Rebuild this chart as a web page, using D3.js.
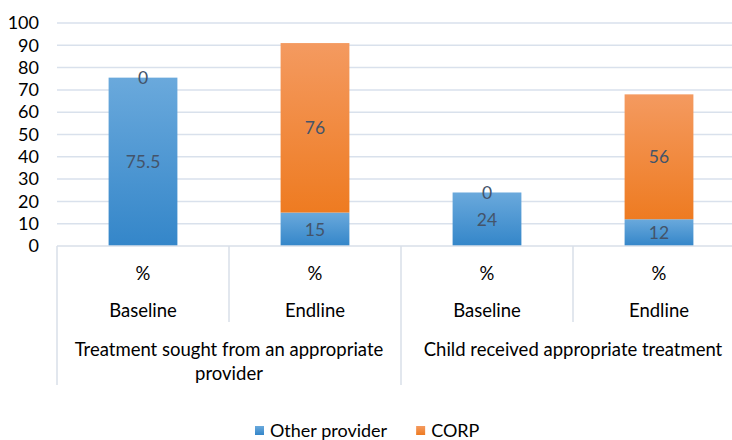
<!DOCTYPE html>
<html>
<head>
<meta charset="utf-8">
<script src="https://cdn.jsdelivr.net/npm/d3@7"></script>
<style>
  body { margin: 0; background: #fff; }
  svg { display: block; font-family: Lato, "Open Sans", sans-serif; }
</style>
</head>
<body>
<svg id="chart" width="732" height="440"></svg>
<script>
// Data
const groups = ['Treatment sought from an appropriate provider', 'Child received appropriate treatment'];
const periods = ['Baseline', 'Endline', 'Baseline', 'Endline'];
const unitLabel = '%';
const otherProvider = [75.5, 15, 24, 12];
const corp = [0, 76, 0, 56];
const seriesNames = ['Other provider', 'CORP'];
const yTicks = [0, 10, 20, 30, 40, 50, 60, 70, 80, 90, 100];

const svg = d3.select('#chart');
const width = 732;
const margin = { left: 57, right: -13, top: 23 };
const plotBottom = 246;
const catFont = '18.5px';

const colors = {
  'Other provider': ['#6aa9dc', '#3486c9'],
  'CORP': ['#f49a60', '#ee7b21']
};
const labelColor = '#44546a';
const axisColor = '#d9dfe8';

const rows = periods.map((p, i) => ({ key: i, 'Other provider': otherProvider[i], 'CORP': corp[i] }));

const x = d3.scaleBand()
  .domain(rows.map(d => d.key))
  .range([margin.left, width - margin.right])
  .paddingInner(0.6)
  .paddingOuter(0.3);

const y = d3.scaleLinear().domain([0, 100]).range([plotBottom, margin.top]);

// gradients for each series (per segment, light at top)
const defs = svg.append('defs');
seriesNames.forEach((name, i) => {
  const g = defs.append('linearGradient')
    .attr('id', 'grad' + i)
    .attr('x1', 0).attr('y1', 0).attr('x2', 0).attr('y2', 1);
  g.append('stop').attr('offset', '0%').attr('stop-color', colors[name][0]);
  g.append('stop').attr('offset', '100%').attr('stop-color', colors[name][1]);
});

// gridlines
svg.append('g')
  .selectAll('line')
  .data(yTicks.filter(t => t > 0))
  .join('line')
  .attr('x1', margin.left)
  .attr('x2', width)
  .attr('y1', d => y(d))
  .attr('y2', d => y(d))
  .attr('stroke', '#d9e1ec')
  .attr('stroke-width', 1.5);

// y axis labels
const yAxis = d3.axisLeft(y).tickValues(yTicks).tickSize(0).tickPadding(18);
const yG = svg.append('g').attr('transform', `translate(${margin.left},0)`).call(yAxis);
yG.select('.domain').remove();
yG.selectAll('text')
  .attr('fill', '#000')
  .style('font-size', '18px')
  .style('font-family', 'Lato, sans-serif');

// stacked bars
const stacked = d3.stack().keys(seriesNames)(rows);
const layer = svg.append('g')
  .selectAll('g')
  .data(stacked)
  .join('g')
  .attr('fill', (d, i) => `url(#grad${i})`);

layer.selectAll('rect')
  .data(d => d)
  .join('rect')
  .attr('x', d => x(d.data.key))
  .attr('width', x.bandwidth())
  .attr('y', d => y(d[1]))
  .attr('height', d => y(d[0]) - y(d[1]));

// data labels
stacked.forEach(s => {
  svg.append('g')
    .selectAll('text')
    .data(s)
    .join('text')
    .attr('x', d => x(d.data.key) + x.bandwidth() / 2)
    .attr('y', d => (y(d[0]) + y(d[1])) / 2)
    .attr('dy', '0.36em')
    .attr('text-anchor', 'middle')
    .attr('fill', labelColor)
    .style('font-size', '17.5px')
    .text(d => d.data[s.key]);
});

// category axis: multi-level
const step = x.step();
const catLeft = i => x(i) - x.paddingOuter() * step;
const catAxis = svg.append('g');
catAxis.append('line')
  .attr('x1', margin.left).attr('x2', width)
  .attr('y1', plotBottom).attr('y2', plotBottom)
  .attr('stroke', axisColor).attr('stroke-width', 1.5);

// separators: long ones between groups, short ones inside
d3.range(periods.length + 1).forEach(i => {
  const xx = catLeft(0) + i * step;
  catAxis.append('line')
    .attr('x1', xx).attr('x2', xx)
    .attr('y1', plotBottom)
    .attr('y2', i % 2 === 0 ? 385 : 322)
    .attr('stroke', axisColor).attr('stroke-width', 1.5);
});

catAxis.selectAll('text.unit')
  .data(rows)
  .join('text')
  .attr('class', 'unit')
  .attr('x', d => x(d.key) + x.bandwidth() / 2)
  .attr('y', 273)
  .attr('dy', '0.36em')
  .attr('text-anchor', 'middle')
  .style('font-size', catFont)
  .text(unitLabel);

catAxis.selectAll('text.period')
  .data(rows)
  .join('text')
  .attr('class', 'period')
  .attr('x', d => x(d.key) + x.bandwidth() / 2)
  .attr('y', 310)
  .attr('dy', '0.36em')
  .attr('text-anchor', 'middle')
  .style('font-size', catFont)
  .text(d => periods[d.key]);

// group labels with wrapping
groups.forEach((g, gi) => {
  const cx = catLeft(gi * 2) + step;
  const t = catAxis.append('text')
    .attr('x', cx)
    .attr('y', 349)
    .attr('text-anchor', 'middle')
    .style('font-size', catFont);
  const words = g.split(' ');
  let line = [];
  let tspan = t.append('tspan').attr('x', cx).attr('dy', '0.36em');
  words.forEach(w => {
    line.push(w);
    tspan.text(line.join(' '));
    if (tspan.node().getComputedTextLength() > step * 2 - 14 && line.length > 1) {
      line.pop();
      tspan.text(line.join(' '));
      line = [w];
      tspan = t.append('tspan').attr('x', cx).attr('dy', '24px').text(w);
    }
  });
});

// legend
const legend = svg.append('g').attr('transform', 'translate(255,431)');
let lx = 0;
seriesNames.forEach((name, i) => {
  const item = legend.append('g').attr('transform', `translate(${lx},0)`);
  item.append('rect')
    .attr('x', 0).attr('y', -5)
    .attr('width', 9).attr('height', 9)
    .attr('fill', `url(#grad${i})`);
  const txt = item.append('text')
    .attr('x', 15).attr('y', 0)
    .attr('dy', '0.36em')
    .style('font-size', '18px')
    .text(name);
  lx += 15 + txt.node().getComputedTextLength() + 29;
});
</script>
</body>
</html>
